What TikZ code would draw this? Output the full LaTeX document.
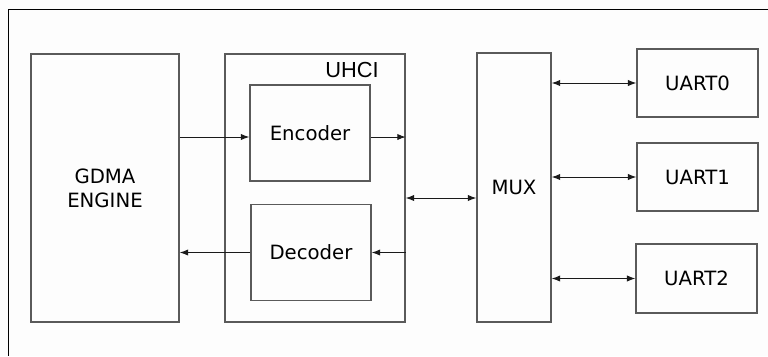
\documentclass[tikz,border=0pt]{standalone}
\usepackage{fontspec}
\setmainfont{DejaVu Sans}
\newfontfamily\labelfont{Liberation Sans}
\usetikzlibrary{arrows.meta, positioning}
\definecolor{ink}{HTML}{1A1A1A}
\definecolor{edge}{HTML}{5A5A5A}
\definecolor{paper}{HTML}{FDFDFD}
\tikzset{blk/.style={draw=edge, line width=1pt, inner sep=0pt, align=center, font=\fontsize{14}{17}\selectfont},
  sig/.style={ink, line width=0.7pt, -{Latex[length=6pt,width=4.5pt]}},
  bus/.style={ink, line width=0.7pt, {Latex[length=6pt,width=4.5pt]}-{Latex[length=6pt,width=4.5pt]}}}

\begin{document}
\begin{tikzpicture}[x=0.025cm, y=-0.025cm]
  \fill[paper] (0,0) rectangle (768,356);
  \useasboundingbox (0,0) rectangle (768,356);
  \draw[black, line width=0.7pt] (768,9) -- (8,9) -- (8,356);
  % blocks
  \node[blk, minimum width=3.7cm, minimum height=6.7cm] (gdma) at (105,188) {GDMA\\ENGINE};
  \node[blk, minimum width=4.5cm, minimum height=6.7cm] (uhci) at (315,188) {};
  \node[font=\labelfont\fontsize{15.5}{17}\selectfont, inner sep=0pt] (uhcilbl) at (352,70) {UHCI};
  \node[blk, minimum width=3cm, minimum height=2.4cm] (enc) at (310,133) {Encoder};
  \node[blk, minimum width=3cm, minimum height=2.4cm] (dec) at (311,252.5) {Decoder};
  \node[blk, minimum width=1.85cm, minimum height=6.72cm] (mux) at (514,187.5) {MUX};
  \node[blk, minimum width=3.02cm, minimum height=1.7cm] (uart0) at (697.5,83) {UART0};
  \node[blk, minimum width=3.02cm, minimum height=1.7cm] (uart1) at (697.5,177) {UART1};
  \node[blk, minimum width=3.02cm, minimum height=1.72cm] (uart2) at (696.5,278.5) {UART2};
  % data paths
  \draw[sig] ([yshift=-0.1cm]enc.west -| gdma.east) -- ([yshift=-0.1cm]enc.west);
  \draw[sig] ([yshift=-0.1cm]enc.east) -- ([yshift=-0.1cm]enc.east -| uhci.east);
  \draw[sig] (dec.east -| uhci.east) -- (dec.east);
  \draw[sig] (dec.west) -- (dec.west -| gdma.east);
  \draw[bus] ([yshift=-0.25cm]uhci.east) -- ([yshift=-0.25cm]uhci.east -| mux.west);
  \foreach \u in {uart0,uart1,uart2}{\draw[bus] (\u.west -| mux.east) -- (\u.west);}
\end{tikzpicture}
\end{document}
